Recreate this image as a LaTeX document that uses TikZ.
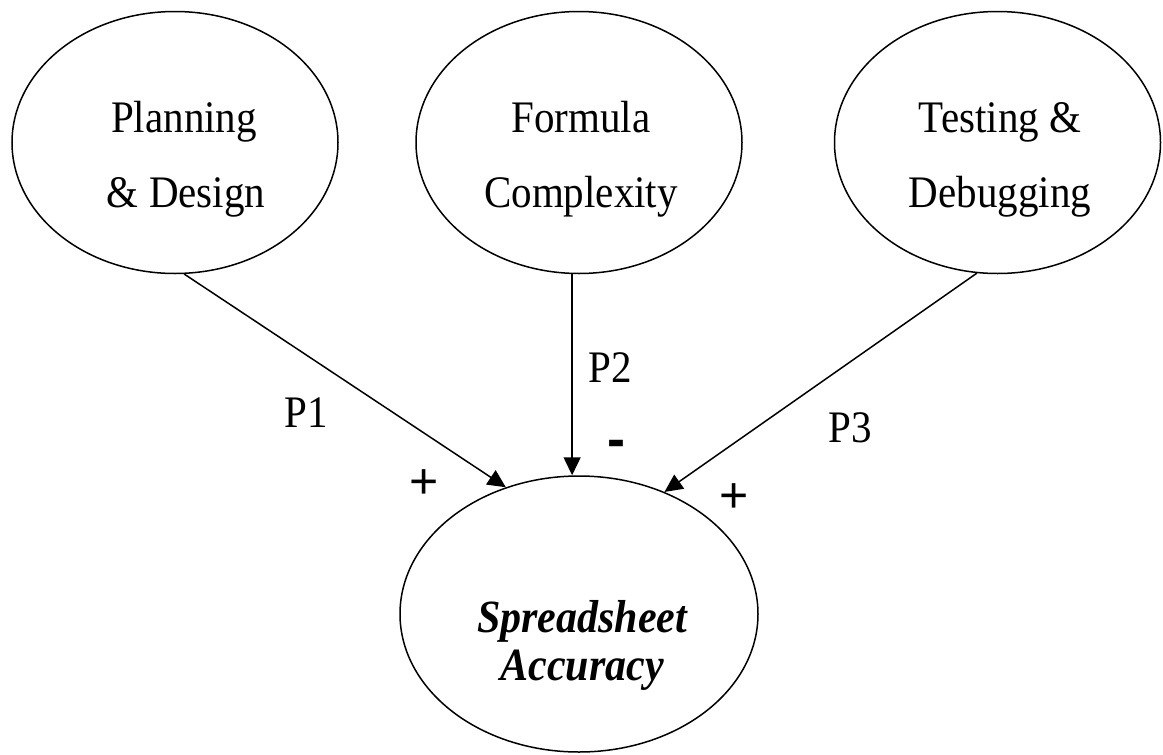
\documentclass[tikz,border=0pt]{standalone}
\usepackage{graphicx}
\usepackage{fontspec}
\setmainfont{Liberation Serif}
\newfontfamily\signfont{Liberation Sans}
\newcommand{\talltext}[1]{\scalebox{1}[1.1]{#1}}
\usetikzlibrary{arrows.meta,shapes.geometric}
\begin{document}
\begin{tikzpicture}[x=1pt,y=-1pt,
  var/.style={draw, ellipse, line width=1.5pt, inner sep=0pt},
  topvar/.style={var, minimum width=326pt, minimum height=262pt},
  lbl/.style={font=\fontsize{41}{41}\selectfont, anchor=base, inner sep=0pt},
  acclbl/.style={font=\fontsize{42}{42}\selectfont\bfseries\itshape, anchor=base, inner sep=0pt},
  plus/.style={font=\fontsize{50}{50}\selectfont\signfont, inner sep=0pt},
  minus/.style={font=\fontsize{54}{54}\selectfont\signfont\bfseries, inner sep=0pt},
  arr/.style={line width=1.5pt, -{Triangle[length=18pt,width=17pt]}}
]
\useasboundingbox (0,0) rectangle (1163,755);

% variables
\node[topvar] (plan) at (175,142.5) {};
\node[topvar] (form) at (579,142.5) {};
\node[topvar] (test) at (997.5,142.5) {};
\node[var, minimum width=358pt, minimum height=276pt] (acc) at (579,614) {};

% texts in the ellipses
\node[lbl] (plan1) at (184,132) {\talltext{Planning}};
\node[lbl] (plan2) at (186,207) {\talltext{\& Design}};
\node[lbl] (form1) at (581,132) {\talltext{Formula}};
\node[lbl] (form2) at (581,207) {\talltext{Complexity}};
\node[lbl] (test1) at (1000,132) {\talltext{Testing \&}};
\node[lbl] (test2) at (1000,207) {\talltext{Debugging}};
\node[acclbl] (acc1) at (582,632) {\talltext{Spreadsheet}};
\node[acclbl] (acc2) at (582,680) {\talltext{Accuracy}};

% connectors
\draw[arr] (plan.-86.5) -- (acc.120);
\draw[arr] (form.-93.5) -- (form.-93.5 |- acc.north);
\draw[arr] (test.-99.7) -- (acc.55.4);

% path labels
\node[lbl] (p1) at (306,427) {\talltext{P1}};
\node[lbl] (p2) at (610,382) {\talltext{P2}};
\node[lbl] (p3) at (850,442) {\talltext{P3}};

% signs
\node[plus] (s1) at (424,484) {+};
\node[minus] (s2) at (616,449) {-};
\node[plus] (s3) at (734,498) {+};
\end{tikzpicture}
\end{document}
